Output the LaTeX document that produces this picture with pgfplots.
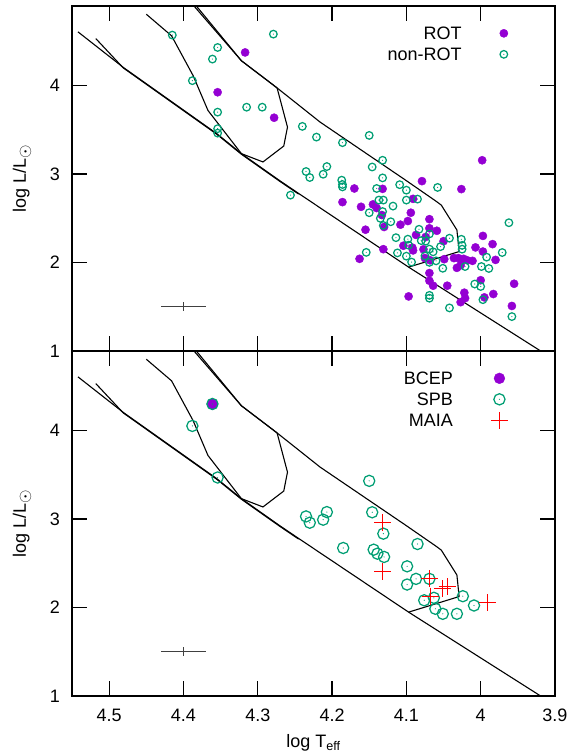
\documentclass[border=0pt]{standalone}
\usepackage{fontspec}
\setmainfont{Liberation Sans}
\usepackage{pgfplots}
\pgfplotsset{compat=1.18}

\definecolor{rotc}{RGB}{148,0,211}
\definecolor{nonrotc}{RGB}{0,158,115}
\definecolor{maiac}{RGB}{255,0,0}

% open circle with a small dot in the middle (gnuplot style)
\pgfdeclareplotmark{circdot}{%
  \pgfpathcircle{\pgfpointorigin}{\pgfplotmarksize}%
  \pgfusepathqstroke
  \pgfpathcircle{\pgfpointorigin}{0.6bp}%
  \pgfusepathqfill}

\newcommand{\sun}{\raisebox{-4bp}{\fontsize{16bp}{16bp}\selectfont$\odot$}}

\pgfplotsset{
  hrd/.style={
    scale only axis, width=483bp, height=345bp,
    x dir=reverse, xmin=3.9, xmax=4.55, ymin=1, ymax=4.9,
    xtick={3.9,4.0,4.1,4.2,4.3,4.4,4.5},
    xticklabels={3.9,4,4.1,4.2,4.3,4.4,4.5},
    ytick={1,2,3,4}, yticklabels={1,2,3,4},
    tick align=inside, major tick length=15bp,
    tick style={black, line width=1.2bp},
    axis line style={line width=2.4bp},
    ylabel={log L/L\sun},
    every axis y label/.style={at={(axis description cs:-0.1035,0.5)}, rotate=90, anchor=center},
    yticklabel style={xshift=-6bp},
    xticklabel style={anchor=base, yshift=-25bp},
    legend cell align=right,
    legend plot pos=right,
    legend style={draw=none, fill=none, inner sep=0pt, at={(0.903,0.946)}, anchor=north east,
      nodes={text height=13bp, text depth=0bp, inner sep=2bp}, row sep=4bp, column sep=36bp},
  },
  track/.style={black, line width=1.1bp, no marks, forget plot},
  errcross/.style={draw=none, mark=none, forget plot,
    error bars/.cd, x dir=both, x explicit, y dir=both, y explicit, error mark=none,
    error bar style={draw=black!75, line width=1bp}},
}

\newcommand{\tracks}{%
  % ZAMS (two nearly overlapping lines)
  \addplot[track] coordinates {(4.542,4.608) (4.481,4.206) (4.355,3.456) (4.322,3.231) (4.270,2.923) (4.245,2.781) (4.097,1.948) (3.924,1.025) (3.900,0.895)};
  \addplot[track] coordinates {(4.518,4.532) (4.481,4.200) (4.355,3.449) (4.322,3.224) (4.270,2.916) (4.245,2.774)};
  % upper boundary and SPB strip
  \addplot[track] coordinates {(4.391,4.950) (4.382,4.863) (4.322,4.281) (4.274,3.974) (4.216,3.587) (4.101,2.931) (4.059,2.687) (4.053,2.649) (4.032,2.368) (4.029,2.124) (4.097,1.948)};
  \addplot[track] coordinates {(4.388,4.950) (4.379,4.863) (4.322,4.281) (4.274,3.974)};
  % beta Cep strip
  \addplot[track] coordinates {(4.450,4.807) (4.416,4.563) (4.387,4.113) (4.367,3.719) (4.322,3.231) (4.293,3.137) (4.265,3.317) (4.260,3.531) (4.274,3.974)};
  % typical error
  \addplot[errcross] coordinates {(4.4,1.5) +- (0.03,0.05)};
}

\begin{document}
\fontsize{18bp}{21bp}\selectfont
\begin{tikzpicture}
\path[use as bounding box] (-72bp,-60bp) rectangle (501bp,696bp);

\begin{axis}[hrd, at={(0,345bp)}, anchor=south west, xticklabels={}]
\tracks
\addplot[only marks, mark=*, mark size=4.1bp, rotc, mark options={draw=none}]
coordinates {
(4.317,4.375) (4.354,3.925) (4.278,3.637) (3.998,3.156) (4.079,2.920) (4.170,2.837)
(4.132,2.833) (4.026,2.830) (4.186,2.683) (4.161,2.630) (4.145,2.657) (4.140,2.616)
(4.091,2.720) (4.094,2.563) (4.133,2.537) (4.098,2.469) (4.108,2.428) (4.069,2.490)
(4.130,2.402) (4.155,2.371) (4.069,2.387) (4.059,2.359) (4.087,2.312) (4.074,2.289)
(4.050,2.241) (4.104,2.190) (4.092,2.169) (4.091,2.137) (4.131,2.151) (4.163,2.042)
(4.077,2.149) (4.075,2.050) (4.068,2.025) (4.049,2.038) (4.036,2.050) (4.030,2.050)
(4.023,2.042) (4.018,2.025) (4.011,2.019) (4.032,1.940) (4.027,1.969) (4.007,2.171)
(3.997,2.301) (3.984,2.208) (3.997,2.124) (3.980,2.030) (4.069,1.881) (4.069,1.794)
(4.064,1.738) (4.045,1.738) (4.000,1.800) (3.955,1.760) (4.097,1.617) (4.022,1.659)
(4.021,1.597) (4.027,1.552) (3.995,1.606) (3.983,1.644) (3.958,1.509)
};
\addlegendentry{ROT}
\addplot[only marks, mark=circdot, mark size=3.8bp, nonrotc, line width=1.25bp]
coordinates {
(4.415,4.571) (4.279,4.582) (4.354,4.431) (4.361,4.300) (4.388,4.056) (4.315,3.756)
(4.294,3.756) (4.354,3.700) (4.354,3.513) (4.354,3.463) (4.240,3.539) (4.221,3.418)
(4.186,3.355) (4.150,3.437) (4.132,3.156) (4.146,3.080) (4.207,3.085) (4.212,2.998)
(4.235,3.029) (4.230,2.961) (4.132,2.957) (4.187,2.931) (4.256,2.762) (4.186,2.882)
(4.186,2.855) (4.140,2.837) (4.109,2.880) (4.100,2.818) (4.058,2.849) (4.137,2.706)
(4.131,2.706) (4.118,2.638) (4.100,2.706) (4.085,2.717) (4.150,2.563) (4.132,2.576)
(4.135,2.500) (4.121,2.461) (4.131,2.419) (4.083,2.376) (4.069,2.323) (4.114,2.281)
(4.098,2.264) (4.080,2.248) (4.074,2.242) (4.042,2.275) (4.026,2.263) (4.054,2.180)
(4.025,2.194) (4.025,2.151) (4.097,2.196) (4.154,2.115) (4.112,2.109) (4.100,2.072)
(4.093,2.005) (4.069,2.152) (4.064,2.121) (4.075,2.075) (4.069,2.002) (4.060,2.019)
(4.051,1.935) (4.021,1.955) (3.992,2.061) (3.971,2.113) (3.962,2.450) (3.999,1.955)
(3.989,1.933) (4.008,1.757) (4.000,1.729) (4.069,1.629) (4.069,1.597) (3.997,1.580)
(4.042,1.487) (3.958,1.389)
};
\addlegendentry{non-ROT}
\end{axis}

\begin{axis}[hrd, at={(0,0)}, anchor=south west,
  xlabel={log T\textsubscript{eff}},
  every axis x label/.style={at={(axis description cs:0.5,-0.1487)}, anchor=base}]
\tracks
\addplot[only marks, mark=*, mark size=5.4bp, rotc, mark options={draw=none}]
coordinates {(4.361,4.301)};
\addlegendentry{BCEP}
\addplot[only marks, mark=circdot, mark size=5.6bp, nonrotc, line width=1.25bp]
coordinates {
(4.361,4.301) (4.388,4.053) (4.354,3.470) (4.235,3.030) (4.230,2.959) (4.212,2.993)
(4.207,3.079) (4.150,3.432) (4.146,3.077) (4.131,2.835) (4.185,2.673) (4.144,2.654)
(4.139,2.609) (4.130,2.572) (4.085,2.718) (4.099,2.466) (4.099,2.260) (4.087,2.324)
(4.069,2.324) (4.076,2.082) (4.063,2.110) (4.061,1.986) (4.051,1.929) (4.032,1.929)
(4.024,2.128) (4.009,2.023)
};
\addlegendentry{SPB}
\addplot[only marks, mark=+, mark size=8.5bp, maiac, line width=1.2bp]
coordinates {
(4.132,2.962) (4.132,2.410) (4.069,2.324) (4.051,2.211) (4.045,2.234) (4.068,2.128)
(3.991,2.053)
};
\addlegendentry{MAIA}
\end{axis}
\end{tikzpicture}
\end{document}
